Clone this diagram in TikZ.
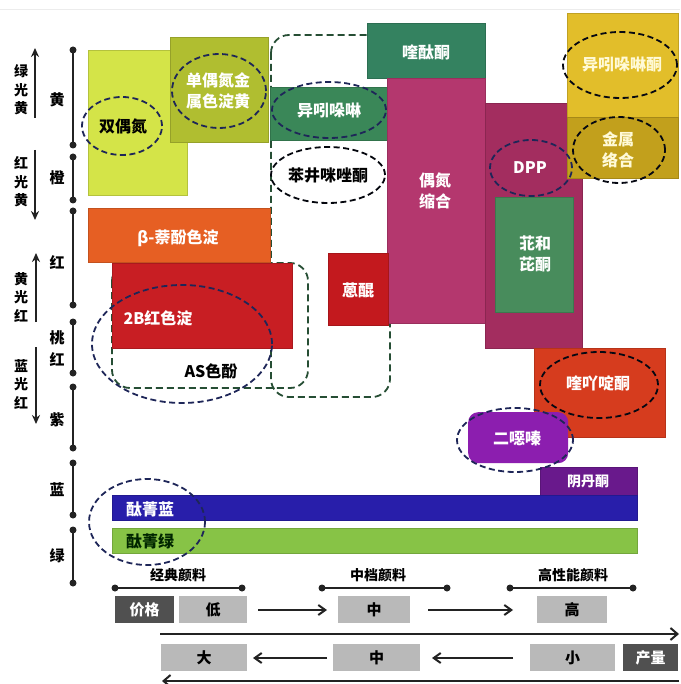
\documentclass[tikz,border=0pt]{standalone}
\usepackage{fontspec}
\setmainfont{Noto Sans CJK SC}
\usetikzlibrary{shapes.geometric,arrows.meta}
\definecolor{cYGa}{RGB}{212,228,72}
\definecolor{cYGb}{RGB}{176,190,48}
\definecolor{cGRa}{RGB}{58,135,88}
\definecolor{cGRb}{RGB}{52,130,96}
\definecolor{cGRc}{RGB}{72,140,92}
\definecolor{cMGa}{RGB}{180,55,110}
\definecolor{cMGb}{RGB}{163,45,95}
\definecolor{cYLa}{RGB}{226,190,42}
\definecolor{cYLb}{RGB}{194,160,28}
\definecolor{cORa}{RGB}{230,95,35}
\definecolor{cORb}{RGB}{214,60,30}
\definecolor{cRDa}{RGB}{200,30,35}
\definecolor{cRDb}{RGB}{195,25,30}
\definecolor{cPUa}{RGB}{140,30,175}
\definecolor{cPUb}{RGB}{105,25,140}
\definecolor{cBL}{RGB}{40,30,170}
\definecolor{cGN}{RGB}{135,195,70}
\definecolor{cNavy}{RGB}{30,38,88}
\definecolor{cDGreen}{RGB}{38,78,52}
\definecolor{cAxis}{RGB}{35,35,35}
\definecolor{cLG}{RGB}{185,185,185}
\definecolor{cDG}{RGB}{80,80,80}
\definecolor{cPale}{RGB}{255,250,215}
\newcommand\fsz[2]{\fontsize{#1}{#2}\selectfont}
\newcommand\bx[6]{\pgfmathsetmacro\bw{#4-#2}\pgfmathsetmacro\bh{#5-#3}%
  \node[boxshape,fill=#6,draw=#6!85!black,minimum width=\bw pt,minimum height=\bh pt] (#1) at (#2,#3) {};}
\tikzset{
  boxshape/.style={rectangle,inner sep=0pt,anchor=north west,line width=0.6pt},
  navyell/.style={ellipse,draw=cNavy,line width=1.8pt,dash pattern=on 6pt off 3.5pt,inner sep=0pt,align=center},
  greenreg/.style={draw=cDGreen,line width=1.8pt,dash pattern=on 7pt off 4pt,rounded corners=18pt},
  wtxt/.style={text=white,font=\fsz{16}{21}\bfseries,align=center,inner sep=0pt},
  btxt/.style={text=black,font=\fsz{16}{21}\bfseries,align=center,inner sep=0pt},
  axlab/.style={text=black,font=\fsz{15}{22}\bfseries,align=center,inner sep=0pt},
  sidelab/.style={text=black,font=\fsz{14}{18.5}\bfseries,align=center,inner sep=0pt},
  sidearr/.style={-{Stealth[length=9pt,width=8pt]},line width=2pt,cAxis},
  axseg/.style={line width=1.5pt,cAxis},
  axdot/.style={circle,fill=cAxis,inner sep=0pt,minimum size=7pt},
  graybox/.style={rectangle,fill=cLG,inner sep=0pt,minimum height=27pt,font=\fsz{15}{18}\bfseries},
  darkbox/.style={rectangle,fill=cDG,text=white,inner sep=0pt,minimum height=27pt,font=\fsz{15}{18}\bfseries},
  cattxt/.style={font=\fsz{14}{16}\bfseries,inner sep=0pt},
  flowarr/.style={-{Straight Barb[length=7pt,width=10pt]},line width=2pt,cAxis},
  longarr/.style={-{Straight Barb[length=7pt,width=12pt]},line width=2pt,cAxis}
}
\begin{document}
\begin{tikzpicture}[x=1pt,y=-1pt]
\useasboundingbox (0,0) rectangle (680,684);
\fill[white] (0,0) rectangle (680,684);
\draw[gray!15,line width=1pt] (0,10) -- (680,10);

% green dashed regions (behind boxes)
\draw[greenreg] (112,263) rectangle (308,388);
\draw[greenreg] (271,35) rectangle (390,397);

% boxes
\bx{bA}{88}{50}{187}{195}{cYGa}
\bx{bB}{170}{37}{268}{142}{cYGb}
\bx{bC}{270}{87}{387}{140}{cGRa}
\bx{bD}{367}{23}{485}{78}{cGRb}
\bx{bE}{387}{78}{485}{323}{cMGa}
\bx{bF}{485}{103}{582}{348}{cMGb}
\bx{bG}{495}{197}{573}{312}{cGRc}
\bx{bH}{567}{13}{678}{117}{cYLa}
\bx{bI}{567}{117}{678}{178}{cYLb}
\bx{bJ}{88}{208}{270}{262}{cORa}
\bx{bK}{112}{263}{292}{348}{cRDa}
\bx{bL}{328}{253}{388}{325}{cRDb}
\bx{bM}{534}{348}{665}{437}{cORb}
\bx{bO}{540}{467}{637}{495}{cPUb}
\bx{bP}{112}{495}{637}{520}{cBL}
\bx{bQ}{112}{528}{637}{553}{cGN}
\node[rectangle,rounded corners=10pt,fill=cPUa,inner sep=0pt,minimum width=100pt,minimum height=51pt,anchor=north west] (bN) at (468,412) {};

% box texts
\node[wtxt] (tD) at (426,52) {喹酞酮};
\node[wtxt] (tE) at (435,191) {偶氮\\缩合};
\node[wtxt] (tG) at (535,254) {苝和\\芘酮};
\node[wtxt] (tJ) at (178,238) {β-萘酚色淀};
\node[wtxt] (tK) at (158,318) {2B红色淀};
\node[wtxt] (tL) at (358,290) {蒽醌};
\node[wtxt,font=\fsz{14}{16}\bfseries] (tO) at (588,482) {阴丹酮};
\node[wtxt] (tP) at (150,509) {酞菁蓝};
\node[btxt,text=black!85!green] (tQ) at (150,541) {酞菁绿};
\node[btxt] (tAS) at (211,371) {AS色酚};

% navy dashed ellipses
\node[navyell,minimum width=80pt,minimum height=58pt] (eA) at (122,126) {};
\node[btxt] (tA) at (123,126) {双偶氮};
\node[navyell,minimum width=94pt,minimum height=74pt] (eB) at (219,91) {};
\node[wtxt] (tB) at (218,91) {单偶氮金\\属色淀黄};
\node[navyell,minimum width=114pt,minimum height=56pt] (eC) at (329,110) {};
\node[wtxt] (tC) at (329,111) {异吲哚啉};
\node[navyell,draw=black!85!cNavy,minimum width=114pt,minimum height=56pt] (eX) at (328,175) {};
\node[btxt] (tX) at (328,175) {苯井咪唑酮};
\node[navyell,minimum width=82pt,minimum height=56pt] (eF) at (531,168) {};
\node[wtxt] (tF) at (530,168) {DPP};
\node[navyell,draw=black!80!cNavy,minimum width=114pt,minimum height=66pt] (eH) at (620,65) {};
\node[wtxt,text=cPale] (tH) at (622,65) {异吲哚啉酮};
\node[navyell,draw=black!80!cNavy,minimum width=92pt,minimum height=66pt] (eI) at (619,150) {};
\node[wtxt,text=cPale] (tI) at (618,150) {金属\\络合};
\node[navyell,minimum width=180pt,minimum height=118pt] (eK) at (182,344) {};
\node[navyell,draw=black!80!cNavy,minimum width=118pt,minimum height=66pt] (eM) at (599,385) {};
\node[wtxt] (tM) at (598,383) {喹吖啶酮};
\node[navyell,minimum width=116pt,minimum height=64pt] (eN) at (515,440) {};
\node[wtxt] (tN) at (517,438) {二噁嗪};
\node[navyell,minimum width=116pt,minimum height=86pt] (eP) at (147,522) {};

% vertical axis
\foreach \ya/\yb/\nm in {50/145/a,157/200/b,211/305/c,322/373/d,387/448/e,463/515/f,530/583/g}{
  \node[axdot] (s\nm1) at (73,\ya) {};
  \node[axdot] (s\nm2) at (73,\yb) {};
  \draw[axseg] (s\nm1.center) -- (s\nm2.center);
}
\node[axlab] (lY) at (57,100) {黄};
\node[axlab] (lO) at (57,178) {橙};
\node[axlab] (lR) at (57,263) {红};
\node[axlab] (lP) at (57,349) {桃\\红};
\node[axlab] (lV) at (57,420) {紫};
\node[axlab] (lB) at (57,490) {蓝};
\node[axlab] (lG) at (57,556) {绿};

% side labels and arrows
\node[sidelab] (sl1) at (21,90) {绿\\光\\黄};
\node[sidelab] (sl2) at (21,182) {红\\光\\黄};
\node[sidelab] (sl3) at (21,297) {黄\\光\\红};
\node[sidelab] (sl4) at (21,384) {蓝\\光\\红};
\coordinate (a1s) at (35,118); \coordinate (a1e) at (35,48);
\coordinate (a2s) at (35,150); \coordinate (a2e) at (35,220);
\coordinate (a3s) at (36,322); \coordinate (a3e) at (36,253);
\coordinate (a4s) at (36,347); \coordinate (a4e) at (36,424);
\draw[sidearr] (a1s) -- (a1e);
\draw[sidearr] (a2s) -- (a2e);
\draw[sidearr] (a3s) -- (a3e);
\draw[sidearr] (a4s) -- (a4e);

% bottom: categories
\node[cattxt] (c1) at (178,575) {经典颜料};
\node[cattxt] (c2) at (378,575) {中档颜料};
\node[cattxt] (c3) at (573,575) {高性能颜料};
\foreach \xa/\xb/\nm in {115/242/p,322/447/q,510/633/r}{
  \node[axdot] (\nm1) at (\xa,588) {};
  \node[axdot] (\nm2) at (\xb,588) {};
  \draw[line width=1.5pt,cAxis] (\nm1.center) -- (\nm2.center);
}
% price row
\node[darkbox,minimum width=59pt] (pj) at (144.5,609.5) {价格};
\node[graybox,minimum width=68pt] (pl) at (213,609.5) {低};
\node[graybox,minimum width=72pt] (pm) at (374,609.5) {中};
\node[graybox,minimum width=70pt] (ph) at (572,609.5) {高};
\coordinate (f1s) at (258,610); \coordinate (f1e) at (327,610);
\coordinate (f2s) at (428,610); \coordinate (f2e) at (513,610);
\draw[flowarr] (f1s) -- (f1e);
\draw[flowarr] (f2s) -- (f2e);
\coordinate (L1s) at (160,634); \coordinate (L1e) at (679,634);
\draw[longarr] (L1s) -- (L1e);
% output row
\node[graybox,minimum width=86pt] (ob) at (204,657.5) {大};
\node[graybox,minimum width=87pt] (om) at (376.5,657.5) {中};
\node[graybox,minimum width=85pt] (os) at (572.5,657.5) {小};
\node[darkbox,minimum width=55pt] (oq) at (650.5,657.5) {产量};
\coordinate (g1s) at (327,658); \coordinate (g1e) at (253,658);
\coordinate (g2s) at (513,658); \coordinate (g2e) at (432,658);
\draw[flowarr] (g1s) -- (g1e);
\draw[flowarr] (g2s) -- (g2e);
\coordinate (L2s) at (679,681); \coordinate (L2e) at (162,681);
\draw[longarr] (L2s) -- (L2e);
\end{tikzpicture}
\end{document}
